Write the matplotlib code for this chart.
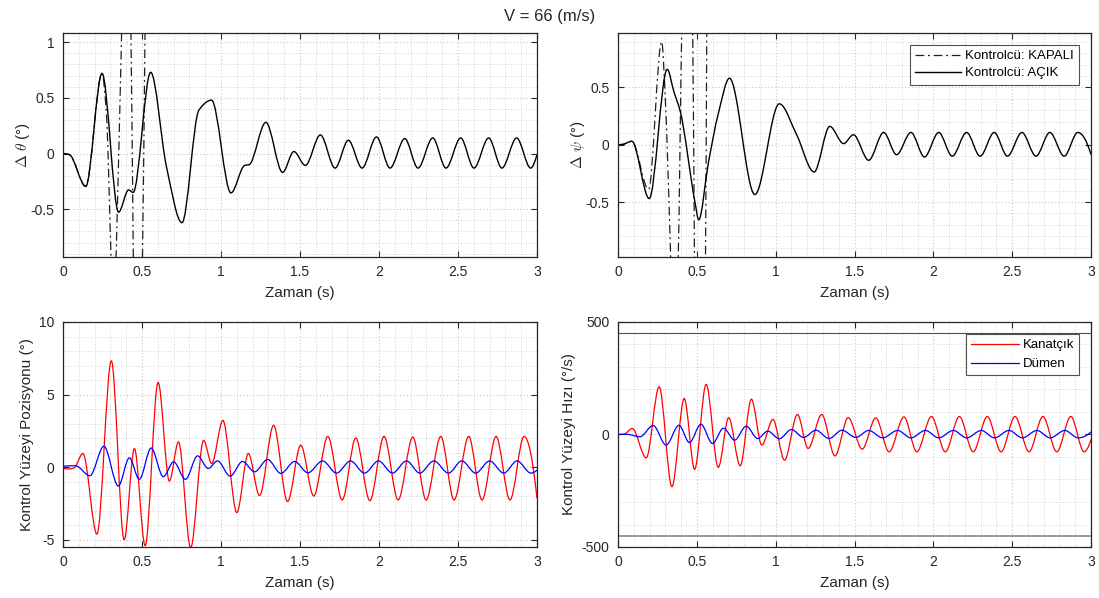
import numpy as np
import matplotlib
matplotlib.use("Agg")
import matplotlib.pyplot as plt
from matplotlib.path import Path
from matplotlib.patches import PathPatch
from matplotlib.lines import Line2D
from matplotlib.ticker import MultipleLocator

plt.rcParams["font.family"] = ["Liberation Sans", "DejaVu Sans"]
plt.rcParams["mathtext.fontset"] = "cm"

# ---- data (time in s) -------------------------------------------------------
# Pitch deviation, controller on
theta_on_t = [0.0, 0.04, 0.144, 0.247, 0.352, 0.415, 0.444, 0.555, 0.655, 0.753,
              0.86, 0.94, 1.063, 1.15, 1.178, 1.284, 1.39, 1.461, 1.534, 1.629,
              1.722, 1.806, 1.893, 1.984, 2.07, 2.163, 2.247, 2.34, 2.424, 2.517,
              2.601, 2.694, 2.778, 2.871, 2.96, 3.0]
theta_on_v = [0.0, -0.01, -0.295, 0.72, -0.527, -0.327, -0.35, 0.73, -0.12, -0.622,
              0.39, 0.48, -0.354, -0.107, -0.10, 0.28, -0.17, 0.018, -0.107, 0.167,
              -0.131, 0.119, -0.131, 0.149, -0.131, 0.134, -0.131, 0.14, -0.131, 0.14,
              -0.131, 0.14, -0.131, 0.14, -0.131, -0.01]
# Pitch deviation, controller off (diverges)
theta_off_t = [0.0, 0.04, 0.144, 0.247, 0.275, 0.304, 0.32, 0.336, 0.371, 0.40,
               0.43, 0.445, 0.475, 0.503, 0.519, 0.54]
theta_off_v = [0.0, -0.01, -0.295, 0.72, 0.35, -0.93, -1.6, -0.93, 1.08, 2.6,
               1.08, -0.93, -3.5, -0.93, 1.08, 5.0]

# Yaw deviation, controller on
psi_on_t = [0.0, 0.03, 0.088, 0.198, 0.312, 0.355, 0.395, 0.488, 0.512, 0.573,
            0.636, 0.707, 0.868, 1.023, 1.133, 1.244, 1.343, 1.431, 1.493, 1.59,
            1.685, 1.767, 1.858, 1.944, 2.034, 2.12, 2.211, 2.297, 2.386, 2.47,
            2.562, 2.651, 2.739, 2.83, 2.916, 3.0]
psi_on_v = [0.0, 0.003, 0.03, -0.47, 0.658, 0.46, 0.29, -0.50, -0.655, -0.16,
            0.27, 0.58, -0.435, 0.357, 0.087, -0.238, 0.16, 0.01, 0.087, -0.136,
            0.107, -0.087, 0.107, -0.107, 0.107, -0.10, 0.107, -0.10, 0.107, -0.10,
            0.107, -0.10, 0.107, -0.10, 0.107, -0.087]
# Yaw deviation, controller off (diverges)
psi_off_t = [0.0, 0.03, 0.088, 0.194, 0.277, 0.30, 0.334, 0.355, 0.382, 0.404,
             0.44, 0.474, 0.485, 0.52, 0.555, 0.563, 0.59]
psi_off_v = [0.0, 0.003, 0.03, -0.39, 0.90, 0.40, -0.98, -2.0, -0.98, 0.98,
             3.0, 0.98, -0.98, -5.0, -0.98, 0.98, 8.0]

# Control surface positions (deg)
ail_pos_t = [0.0, 0.04, 0.07, 0.126, 0.215, 0.306, 0.387, 0.452, 0.52, 0.602,
             0.673, 0.731, 0.808, 0.89, 0.941, 1.012, 1.1, 1.173, 1.244, 1.333,
             1.421, 1.505, 1.587, 1.676, 1.767, 1.853, 1.942, 2.032, 2.121, 2.214,
             2.298, 2.391, 2.475, 2.568, 2.652, 2.741, 2.829, 2.918, 3.0]
ail_pos_v = [-0.08, -0.12, -0.05, 0.94, -4.61, 7.33, -5.0, 1.28, -5.41, 5.84,
             -0.96, 1.74, -5.55, 1.85, 0.25, 3.22, -3.13, 0.94, -1.96, 2.88,
             -2.37, 1.51, -1.99, 2.12, -2.26, 2.01, -2.31, 2.12, -2.26, 2.08,
             -2.26, 2.12, -2.26, 2.12, -2.26, 2.12, -2.26, 2.12, -2.15]
rud_pos_t = [0.0, 0.08, 0.17, 0.259, 0.35, 0.42, 0.483, 0.558, 0.635, 0.70,
             0.775, 0.852, 0.919, 0.978, 1.058, 1.136, 1.213, 1.295, 1.379, 1.466,
             1.55, 1.643, 1.731, 1.82, 1.908, 1.997, 2.085, 2.174, 2.258, 2.347,
             2.44, 2.524, 2.612, 2.70, 2.79, 2.874, 2.962, 3.0]
rud_pos_v = [0.07, 0.09, -0.59, 1.44, -1.3, 0.64, -0.84, 1.32, -0.66, 0.37,
             -0.84, 0.78, -0.09, 0.43, -0.62, 0.39, -0.32, 0.53, -0.43, 0.39,
             -0.39, 0.43, -0.41, 0.43, -0.41, 0.43, -0.41, 0.43, -0.41, 0.43,
             -0.41, 0.43, -0.41, 0.43, -0.41, 0.43, -0.41, -0.2]

# Control surface rates (deg/s)
ail_rate_t = [0.0, 0.04, 0.09, 0.179, 0.261, 0.342, 0.42, 0.486, 0.559, 0.636,
              0.702, 0.775, 0.846, 0.912, 0.983, 1.056, 1.138, 1.206, 1.292, 1.376,
              1.46, 1.549, 1.635, 1.719, 1.814, 1.895, 1.988, 2.076, 2.165, 2.253,
              2.342, 2.43, 2.518, 2.607, 2.695, 2.783, 2.872, 2.956, 3.0]
ail_rate_v = [0.0, 2, 27, -104, 212, -232, 160, -155, 223, -146,
              75, -139, 157, -47, 67, -114, 89, -62, 89, -95,
              75, -65, 74, -77, 78, -77, 80, -77, 80, -77,
              80, -77, 80, -77, 80, -77, 80, -77, -22]
rud_rate_t = [0.0, 0.06, 0.139, 0.223, 0.305, 0.387, 0.453, 0.526, 0.599, 0.669,
              0.74, 0.813, 0.886, 0.95, 1.023, 1.1, 1.177, 1.255, 1.339, 1.42,
              1.509, 1.59, 1.679, 1.774, 1.858, 1.95, 2.034, 2.127, 2.211, 2.304,
              2.388, 2.48, 2.565, 2.657, 2.741, 2.834, 2.918, 3.0]
rud_rate_v = [0.0, 0.5, -10, 40, -47, 41, -36, 46, -40, 28,
              -25, 37, -18, 15, -19, 22, -13, 19, -18, 19,
              -13, 18, -15, 18, -15, 18, -15, 18, -15, 18,
              -15, 18, -15, 18, -15, 18, -15, 12]
rate_limit = 450

title = "V = 66 (m/s)"
xlabel = "Zaman (s)"
legend_ctrl = ["Kontrolcü: KAPALI", "Kontrolcü: AÇIK"]
legend_surf = ["Kanatçık", "Dümen"]


# ---- helpers ----------------------------------------------------------------
def smooth_path(t, v):
    """Shape-preserving cubic Bezier path through the given samples."""
    t = np.asarray(t, float)
    v = np.asarray(v, float)
    h = np.diff(t)
    d = np.diff(v) / h
    n = len(v)
    m = np.zeros(n)
    for k in range(1, n - 1):
        if d[k - 1] * d[k] > 0:
            w1 = 2 * h[k] + h[k - 1]
            w2 = h[k] + 2 * h[k - 1]
            m[k] = (w1 + w2) / (w1 / d[k - 1] + w2 / d[k])

    def end_slope(h0, h1, d0, d1):
        s = ((2 * h0 + h1) * d0 - h0 * d1) / (h0 + h1)
        if np.sign(s) != np.sign(d0):
            s = 0.0
        elif np.sign(d0) != np.sign(d1) and abs(s) > abs(3 * d0):
            s = 3 * d0
        return s

    m[0] = end_slope(h[0], h[1], d[0], d[1])
    m[-1] = end_slope(h[-1], h[-2], d[-1], d[-2])
    verts = [(t[0], v[0])]
    codes = [Path.MOVETO]
    for k in range(n - 1):
        verts += [(t[k] + h[k] / 3, v[k] + m[k] * h[k] / 3),
                  (t[k + 1] - h[k] / 3, v[k + 1] - m[k + 1] * h[k] / 3),
                  (t[k + 1], v[k + 1])]
        codes += [Path.CURVE4] * 3
    return Path(verts, codes)


def curve(ax, t, v, **kw):
    patch = PathPatch(smooth_path(t, v), fill=False, transform=ax.transData,
                      capstyle="butt", joinstyle="round", **kw)
    ax.add_patch(patch)
    return patch


DASHDOT = (0, (7, 3, 1.5, 3))
AX_COLOR = "#262626"
GRID_COLOR = "#c8c8c8"


def style_axes(ax, ylim, ymajor, yminor, yticks=None):
    ax.set_xlim(0, 3)
    ax.set_ylim(*ylim)
    ax.xaxis.set_major_locator(MultipleLocator(0.5))
    ax.xaxis.set_minor_locator(MultipleLocator(0.1))
    if yticks is not None:
        ax.set_yticks(yticks)
    else:
        ax.yaxis.set_major_locator(MultipleLocator(ymajor))
    ax.yaxis.set_minor_locator(MultipleLocator(yminor))
    ax.xaxis.set_major_formatter(plt.FuncFormatter(lambda x, p: f"{x:g}"))
    ax.yaxis.set_major_formatter(plt.FuncFormatter(lambda x, p: f"{x:g}"))
    ax.grid(True, which="major", color=GRID_COLOR, linestyle=(0, (1, 2)), linewidth=0.8)
    ax.grid(True, which="minor", color=GRID_COLOR, linestyle=(0, (1, 2)), linewidth=0.6)
    ax.set_axisbelow(True)
    ax.tick_params(which="major", direction="in", length=4, width=0.8,
                   top=True, right=True, colors=AX_COLOR, labelsize=10, pad=6)
    ax.tick_params(which="minor", length=0, top=True, right=True)
    for s in ax.spines.values():
        s.set_color(AX_COLOR)
        s.set_linewidth(0.9)
    ax.set_xlabel(xlabel, fontsize=11, color=AX_COLOR, labelpad=5)


fig = plt.figure(figsize=(10.99, 5.98), dpi=100)
W, H = 1099, 598


def add_axes(x0, y0, x1, y1):
    return fig.add_axes([x0 / W, 1 - y1 / H, (x1 - x0) / W, (y1 - y0) / H])


ax1 = add_axes(63, 33, 537, 257)
ax2 = add_axes(618, 33, 1091, 257)
ax3 = add_axes(63, 322, 537, 547)
ax4 = add_axes(618, 322, 1091, 547)

fig.text(0.5, 1 - 17 / H, title, ha="center", va="center", fontsize=12, color=AX_COLOR)

# pitch
curve(ax1, theta_off_t, theta_off_v, color="#202020", linewidth=0.9, linestyle=DASHDOT)
curve(ax1, theta_on_t, theta_on_v, color="black", linewidth=1.0)
style_axes(ax1, (-0.93, 1.083), None, 0.1, yticks=[-0.5, 0, 0.5, 1])
ax1.set_ylabel(r"$\Delta\ \theta$ (°)", fontsize=11, color=AX_COLOR, labelpad=-1)

# yaw
curve(ax2, psi_off_t, psi_off_v, color="#202020", linewidth=0.9, linestyle=DASHDOT)
curve(ax2, psi_on_t, psi_on_v, color="black", linewidth=1.0)
style_axes(ax2, (-0.98, 0.975), None, 0.1, yticks=[-0.5, 0, 0.5])
ax2.set_ylabel(r"$\Delta\ \psi$ (°)", fontsize=11, color=AX_COLOR, labelpad=-1)
handles = [Line2D([], [], color="#202020", linewidth=0.9, linestyle=DASHDOT),
           Line2D([], [], color="black", linewidth=1.0)]
leg = ax2.legend(handles, legend_ctrl, loc="upper right", fontsize=9.5,
                 frameon=True, fancybox=False, edgecolor=AX_COLOR,
                 borderaxespad=0.9, handlelength=3.5, handletextpad=0.3,
                 labelspacing=0.35, borderpad=0.4)
leg.get_frame().set_linewidth(0.8)

# control surface positions
curve(ax3, ail_pos_t, ail_pos_v, color="#ff0000", linewidth=0.9)
curve(ax3, rud_pos_t, rud_pos_v, color="#0000ff", linewidth=0.9)
style_axes(ax3, (-5.5, 10), 5, 1)
ax3.set_ylabel("Kontrol Yüzeyi Pozisyonu (°)", fontsize=11, color=AX_COLOR)

# control surface rates
ax4.axhline(rate_limit, color="#505050", linewidth=0.8)
ax4.axhline(-rate_limit, color="#8a8a8a", linewidth=1.2)
curve(ax4, ail_rate_t, ail_rate_v, color="#ff0000", linewidth=0.9)
curve(ax4, rud_rate_t, rud_rate_v, color="#0000ff", linewidth=0.9)
style_axes(ax4, (-500, 500), 500, 100)
ax4.set_ylabel("Kontrol Yüzeyi Hızı (°/s)", fontsize=11, color=AX_COLOR)
handles = [Line2D([], [], color="#ff0000", linewidth=0.9),
           Line2D([], [], color="#0000ff", linewidth=0.9)]
leg = ax4.legend(handles, legend_surf, loc="upper right", fontsize=9.5,
                 frameon=True, fancybox=False, edgecolor=AX_COLOR,
                 borderaxespad=0.9, handlelength=3.6, handletextpad=0.3,
                 labelspacing=0.5, borderpad=0.4)
leg.get_frame().set_linewidth(0.8)

fig.savefig("out.png", dpi=100)
